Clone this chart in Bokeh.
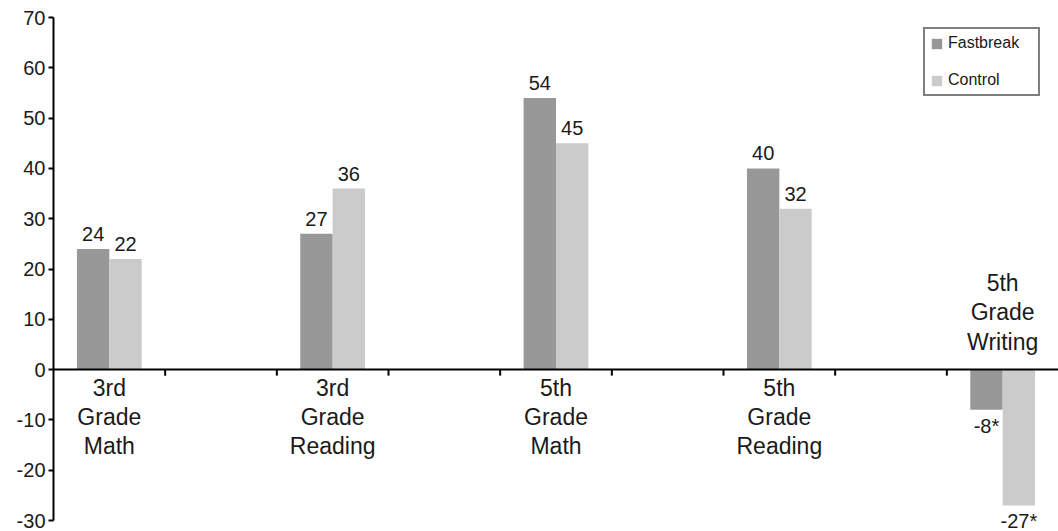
from bokeh.plotting import figure
from bokeh.models import (ColumnDataSource, FixedTicker, Span, Range1d, Legend, LegendItem,
                          PrintfTickFormatter)
from bokeh.core.properties import value
from bokeh.embed import file_html
from bokeh.resources import INLINE

categories = ["3rd\nGrade\nMath", "3rd\nGrade\nReading", "5th\nGrade\nMath",
              "5th\nGrade\nReading", "5th\nGrade\nWriting"]
fastbreak = [24, 27, 54, 40, -8]
control = [22, 36, 45, 32, -27]
fastbreak_labels = ["24", "27", "54", "40", "-8*"]
control_labels = ["22", "36", "45", "32", "-27*"]
y_ticks = [-30, -20, -10, 0, 10, 20, 30, 40, 50, 60, 70]

FONT = "Liberation Sans"
DARK = "#989898"
LIGHT = "#cbcbcb"
TXT = "#1a1a1a"

n_slots = 2 * len(categories) - 1
slot_x = [2 * i for i in range(len(categories))]
bw = 0.29

# frame runs to the bottom edge so the lowest labels are not clipped;
# the axis itself is bounded to the tick range
units_per_px = (y_ticks[-1] - y_ticks[0]) / 503.0
y_start = y_ticks[0] - 11 * units_per_px

p = figure(width=1058, height=531, output_backend="svg", toolbar_location=None,
           x_range=Range1d(-0.5, n_slots - 0.5), y_range=Range1d(y_start, y_ticks[-1]),
           min_border_left=53, min_border_right=0, min_border_top=17, min_border_bottom=0)
p.outline_line_color = None
p.xgrid.visible = False
p.ygrid.visible = False
p.xaxis.visible = False
p.background_fill_color = "white"

yax = p.yaxis[0]
yax.ticker = FixedTicker(ticks=y_ticks)
yax.bounds = (y_ticks[0], y_ticks[-1])
yax.formatter = PrintfTickFormatter(format="%d")
yax.axis_line_width = 2
yax.axis_line_color = "black"
yax.major_tick_line_width = 2
yax.major_tick_line_color = "black"
yax.major_tick_in = 0
yax.major_tick_out = 5
yax.minor_tick_line_color = None
yax.major_label_text_font = FONT
yax.major_label_text_font_size = "20px"
yax.major_label_text_color = TXT
yax.major_label_standoff = 3

src = ColumnDataSource(dict(
    xf=[x - bw / 2 for x in slot_x], xc=[x + bw / 2 for x in slot_x],
    f=fastbreak, c=control, fl=fastbreak_labels, cl=control_labels,
    f_off=[-8 if v >= 0 else 5 for v in fastbreak],
    c_off=[-8 if v >= 0 else 5 for v in control],
    f_base=["bottom" if v >= 0 else "top" for v in fastbreak],
    c_base=["bottom" if v >= 0 else "top" for v in control],
))

rf = p.vbar(x="xf", width=bw, top="f", bottom=0, source=src, fill_color=DARK, line_color=None)
rc = p.vbar(x="xc", width=bw, top="c", bottom=0, source=src, fill_color=LIGHT, line_color=None)

p.text(x="xf", y="f", text="fl", source=src, y_offset="f_off", text_align="center",
       text_baseline="f_base", text_font=value(FONT), text_font_size="20px", text_color=TXT)
p.text(x="xc", y="c", text="cl", source=src, y_offset="c_off", text_align="center",
       text_baseline="c_base", text_font=value(FONT), text_font_size="20px", text_color=TXT)

# zero axis line with tick marks at slot boundaries
p.add_layout(Span(location=0, dimension="width", line_color="black", line_width=2))
bounds = [i + 0.5 for i in range(n_slots - 1)]
p.segment(x0=bounds, x1=bounds, y0=[0] * len(bounds), y1=[-1.2] * len(bounds),
          line_color="black", line_width=2)

# category labels: below axis for positive groups, above for negative
cat_src = ColumnDataSource(dict(
    x=slot_x, y=[0] * len(categories), t=categories,
    base=["top" if min(f, c) >= 0 else "bottom" for f, c in zip(fastbreak, control)],
    off=[5 if min(f, c) >= 0 else -15 for f, c in zip(fastbreak, control)],
))
p.text(x="x", y="y", text="t", source=cat_src, y_offset="off", text_align="center",
       text_baseline="base", text_font=value(FONT), text_font_size="23px",
       text_color=TXT, text_line_height=1.12)

legend = Legend(items=[LegendItem(label="Fastbreak", renderers=[rf]),
                       LegendItem(label="Control", renderers=[rc])],
                location=(870, 435), orientation="vertical")
legend.border_line_color = "black"
legend.border_line_width = 2
legend.background_fill_color = "white"
legend.label_text_font = FONT
legend.label_text_font_size = "16px"
legend.label_text_color = TXT
legend.glyph_width = 13
legend.glyph_height = 13
legend.label_height = 16
legend.label_width = 85
legend.label_standoff = 5
legend.padding = 5
legend.spacing = 19
legend.margin = 0
p.add_layout(legend, "center")

open("out.html", "w").write(file_html(p, INLINE))
